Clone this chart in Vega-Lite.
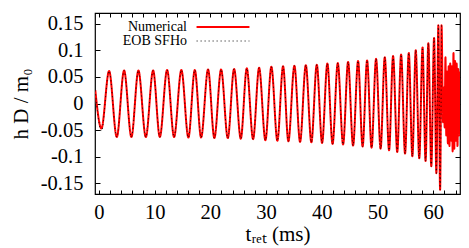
{
  "$schema": "https://vega.github.io/schema/vega-lite/v6.json",
  "autosize": "none",
  "width": 365,
  "height": 181,
  "padding": {"left": 95, "top": 13, "right": 9, "bottom": 54},
  "background": "white",
  "data": {"values": [
    {"t": -0.65, "Numerical": 0.025, "EOB SFHo": 0.025},
    {"t": 0.45, "Numerical": -0.047, "EOB SFHo": -0.052},
    {"t": 1.83, "Numerical": 0.061, "EOB SFHo": 0.061},
    {"t": 3.21, "Numerical": -0.063, "EOB SFHo": -0.063},
    {"t": 4.52, "Numerical": 0.062, "EOB SFHo": 0.062},
    {"t": 5.83, "Numerical": -0.063, "EOB SFHo": -0.063},
    {"t": 7.09, "Numerical": 0.062, "EOB SFHo": 0.062},
    {"t": 8.42, "Numerical": -0.063, "EOB SFHo": -0.063},
    {"t": 9.73, "Numerical": 0.062, "EOB SFHo": 0.062},
    {"t": 10.93, "Numerical": -0.063, "EOB SFHo": -0.063},
    {"t": 12.24, "Numerical": 0.063, "EOB SFHo": 0.063},
    {"t": 13.49, "Numerical": -0.063, "EOB SFHo": -0.063},
    {"t": 14.80, "Numerical": 0.063, "EOB SFHo": 0.063},
    {"t": 16.06, "Numerical": -0.064, "EOB SFHo": -0.064},
    {"t": 17.21, "Numerical": 0.063, "EOB SFHo": 0.063},
    {"t": 18.34, "Numerical": -0.064, "EOB SFHo": -0.064},
    {"t": 19.59, "Numerical": 0.064, "EOB SFHo": 0.064},
    {"t": 20.72, "Numerical": -0.065, "EOB SFHo": -0.065},
    {"t": 21.93, "Numerical": 0.064, "EOB SFHo": 0.064},
    {"t": 23.13, "Numerical": -0.065, "EOB SFHo": -0.065},
    {"t": 24.26, "Numerical": 0.065, "EOB SFHo": 0.065},
    {"t": 25.46, "Numerical": -0.066, "EOB SFHo": -0.066},
    {"t": 26.54, "Numerical": 0.066, "EOB SFHo": 0.066},
    {"t": 27.67, "Numerical": -0.067, "EOB SFHo": -0.067},
    {"t": 28.75, "Numerical": 0.067, "EOB SFHo": 0.067},
    {"t": 29.88, "Numerical": -0.069, "EOB SFHo": -0.069},
    {"t": 30.95, "Numerical": 0.069, "EOB SFHo": 0.069},
    {"t": 32.03, "Numerical": -0.070, "EOB SFHo": -0.070},
    {"t": 33.05, "Numerical": 0.070, "EOB SFHo": 0.070},
    {"t": 34.00, "Numerical": -0.071, "EOB SFHo": -0.071},
    {"t": 35.08, "Numerical": 0.071, "EOB SFHo": 0.071},
    {"t": 36.10, "Numerical": -0.072, "EOB SFHo": -0.072},
    {"t": 37.13, "Numerical": 0.072, "EOB SFHo": 0.072},
    {"t": 38.13, "Numerical": -0.073, "EOB SFHo": -0.073},
    {"t": 39.10, "Numerical": 0.073, "EOB SFHo": 0.073},
    {"t": 40.05, "Numerical": -0.074, "EOB SFHo": -0.074},
    {"t": 41.00, "Numerical": 0.075, "EOB SFHo": 0.075},
    {"t": 41.93, "Numerical": -0.076, "EOB SFHo": -0.076},
    {"t": 42.87, "Numerical": 0.076, "EOB SFHo": 0.076},
    {"t": 43.82, "Numerical": -0.077, "EOB SFHo": -0.077},
    {"t": 44.72, "Numerical": 0.078, "EOB SFHo": 0.078},
    {"t": 45.61, "Numerical": -0.079, "EOB SFHo": -0.079},
    {"t": 46.51, "Numerical": 0.080, "EOB SFHo": 0.080},
    {"t": 47.32, "Numerical": -0.081, "EOB SFHo": -0.081},
    {"t": 48.13, "Numerical": 0.081, "EOB SFHo": 0.081},
    {"t": 48.93, "Numerical": -0.083, "EOB SFHo": -0.083},
    {"t": 49.74, "Numerical": 0.084, "EOB SFHo": 0.084},
    {"t": 50.55, "Numerical": -0.085, "EOB SFHo": -0.085},
    {"t": 51.30, "Numerical": 0.087, "EOB SFHo": 0.087},
    {"t": 52.07, "Numerical": -0.088, "EOB SFHo": -0.088},
    {"t": 52.79, "Numerical": 0.089, "EOB SFHo": 0.089},
    {"t": 53.54, "Numerical": -0.091, "EOB SFHo": -0.091},
    {"t": 54.23, "Numerical": 0.092, "EOB SFHo": 0.092},
    {"t": 54.94, "Numerical": -0.094, "EOB SFHo": -0.094},
    {"t": 55.61, "Numerical": 0.095, "EOB SFHo": 0.095},
    {"t": 56.25, "Numerical": -0.099, "EOB SFHo": -0.099},
    {"t": 56.86, "Numerical": 0.100, "EOB SFHo": 0.100},
    {"t": 57.49, "Numerical": -0.103, "EOB SFHo": -0.103},
    {"t": 58.08, "Numerical": 0.105, "EOB SFHo": 0.105},
    {"t": 58.62, "Numerical": -0.108, "EOB SFHo": -0.108},
    {"t": 59.12, "Numerical": 0.113, "EOB SFHo": 0.113},
    {"t": 59.65, "Numerical": -0.118, "EOB SFHo": -0.118},
    {"t": 60.15, "Numerical": 0.123, "EOB SFHo": 0.123},
    {"t": 60.56, "Numerical": -0.131, "EOB SFHo": -0.131},
    {"t": 60.92, "Numerical": 0.147, "EOB SFHo": 0.147},
    {"t": 61.23, "Numerical": -0.162, "EOB SFHo": -0.162},
    {"t": 61.49, "Numerical": 0.147, "EOB SFHo": 0.147},
    {"t": 61.76, "Numerical": -0.035},
    {"t": 61.91, "Numerical": 0.030},
    {"t": 62.05, "Numerical": -0.045},
    {"t": 62.19, "Numerical": 0.087},
    {"t": 62.34, "Numerical": -0.060},
    {"t": 62.48, "Numerical": 0.060},
    {"t": 62.62, "Numerical": -0.075},
    {"t": 62.77, "Numerical": 0.070},
    {"t": 62.91, "Numerical": -0.080},
    {"t": 63.05, "Numerical": 0.075},
    {"t": 63.20, "Numerical": -0.070},
    {"t": 63.34, "Numerical": 0.070},
    {"t": 63.48, "Numerical": -0.090},
    {"t": 63.63, "Numerical": 0.095},
    {"t": 63.77, "Numerical": -0.085},
    {"t": 63.91, "Numerical": 0.080},
    {"t": 64.06, "Numerical": -0.070},
    {"t": 64.20, "Numerical": 0.075},
    {"t": 64.35, "Numerical": -0.080},
    {"t": 64.49, "Numerical": 0.065},
    {"t": 64.63, "Numerical": -0.060},
    {"t": 64.78, "Numerical": 0.060}
  ]},
  "transform": [
    {"fold": ["Numerical", "EOB SFHo"], "as": ["series", "h"]},
    {"filter": "isValid(datum.h)"}
  ],
  "resolve": {"axis": {"x": "independent", "y": "independent"}},
  "layer": [
    {
      "mark": {"type": "line", "interpolate": "monotone", "clip": true},
      "encoding": {
        "x": {"field": "t", "type": "quantitative",
          "scale": {"domain": [-0.7, 64.8], "nice": false, "zero": false},
          "axis": {"orient": "bottom", "values": [0,2,4,6,8,10,12,14,16,18,20,22,24,26,28,30,32,34,36,38,40,42,44,46,48,50,52,54,56,58,60,62,64],
            "labelExpr": "datum.value % 10 == 0 ? '' + datum.value : ''",
            "tickSize": -4, "labelPadding": 12, "title": "tᵣₑₜ (ms)", "titlePadding": 1}},
        "y": {"field": "h", "type": "quantitative",
          "scale": {"domain": [-0.17, 0.17], "nice": false},
          "axis": {"orient": "left", "values": [-0.15, -0.1, -0.05, 0, 0.05, 0.1, 0.15],
            "labelExpr": "'' + datum.value", "tickSize": -5, "labelPadding": 17,
            "title": "h D / m₀", "titlePadding": 9}},
        "color": {"field": "series", "type": "nominal",
          "scale": {"domain": ["Numerical", "EOB SFHo"], "range": ["#ff0000", "#000000"]},
          "legend": {"rowPadding": -4, "orient": "none", "legendX": 121, "legendY": 7}},
        "strokeDash": {"field": "series", "type": "nominal",
          "scale": {"domain": ["Numerical", "EOB SFHo"], "range": [[1, 0], [1.2, 2.8]]}},
        "strokeWidth": {"field": "series", "type": "nominal",
          "scale": {"domain": ["Numerical", "EOB SFHo"], "range": [2, 0.8]}}
      }
    },
    {
      "mark": {"type": "point", "opacity": 0},
      "encoding": {
        "x": {"field": "t", "type": "quantitative",
          "axis": {"orient": "top", "values": [0,2,4,6,8,10,12,14,16,18,20,22,24,26,28,30,32,34,36,38,40,42,44,46,48,50,52,54,56,58,60,62,64],
            "labels": false, "tickSize": -4, "title": null}},
        "y": {"field": "h", "type": "quantitative",
          "axis": {"orient": "right", "values": [-0.15, -0.1, -0.05, 0, 0.05, 0.1, 0.15],
            "labels": false, "tickSize": -5, "title": null}}
      }
    }
  ],
  "config": {
    "view": {"stroke": "#000000", "strokeWidth": 1.2},
    "font": "Liberation Serif",
    "axis": {
      "domain": false, "grid": false, "tickColor": "#000000", "tickWidth": 1,
      "labelFont": "Liberation Serif", "titleFont": "Liberation Serif",
      "labelFontSize": 20.5, "labelColor": "#000000",
      "titleFontSize": 21, "titleFontWeight": "normal", "titleColor": "#000000"
    },
    "legend": {
      "orient": "none", "legendX": 121, "legendY": 7, "title": null,
      "symbolType": "M-10,0H10", "symbolSize": 28, "rowPadding": -4,
      "labelAlign": "right", "labelOffset": -43, "labelFont": "Liberation Serif",
      "labelFontSize": 14, "labelColor": "#000000", "padding": 0
    }
  }
}
